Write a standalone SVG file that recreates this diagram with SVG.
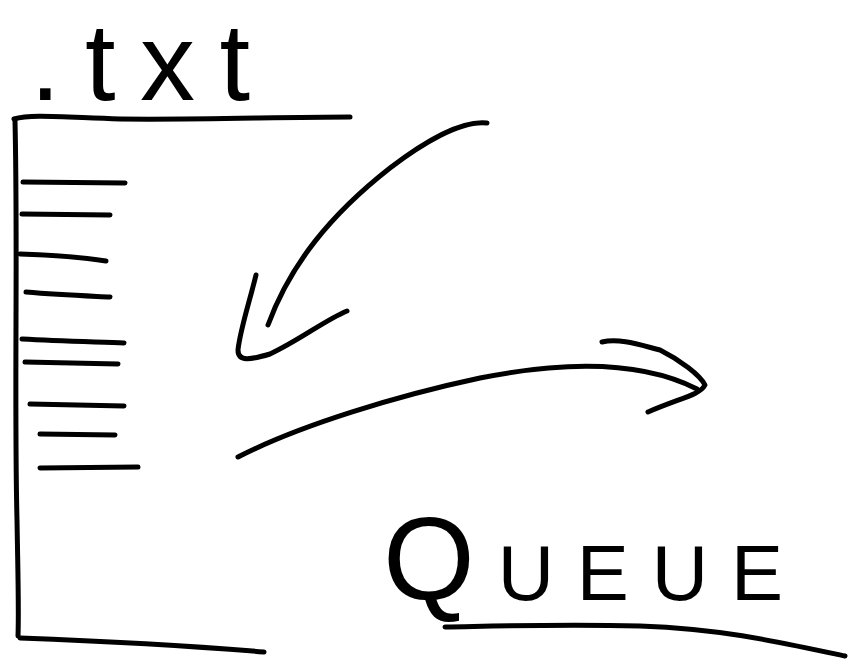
<svg xmlns="http://www.w3.org/2000/svg" width="854" height="668" viewBox="0 0 854 668">
<style>
.s{fill:none;stroke:#000;stroke-width:5;stroke-linecap:round;stroke-linejoin:round}
.t{font-family:"Liberation Sans",Arial,sans-serif;fill:#000}
</style>
<rect width="854" height="668" fill="#fff"/>
<g id="file">
<path class="s" d="M14,119 C30,114 60,117 120,119 C200,120 280,117 350,117"/>
<path class="s" d="M15,121 C18,250 14,400 17,520 C18,580 19,610 18,636"/>
<path class="s" d="M20,638 C100,641 180,645 264,652"/>
<path class="s" d="M23,182 L125,183"/>
<path class="s" d="M22,214 L110,215"/>
<path class="s" d="M20,254 C50,255 80,257 106,261"/>
<path class="s" d="M26,292 C60,295 90,296 110,297"/>
<path class="s" d="M22,339 C60,341 100,342 124,343"/>
<path class="s" d="M25,362 L118,364"/>
<path class="s" d="M30,404 L124,406"/>
<path class="s" d="M40,434 L115,435"/>
<path class="s" d="M40,468 L138,467"/>
</g>
<g id="label-txt">
<text class="t" x="30" y="100" font-size="110" textLength="220" lengthAdjust="spacing">.txt</text>
</g>
<g id="label-queue">
<text class="t" x="383" y="600" font-size="78" textLength="400" lengthAdjust="spacing"><tspan font-size="118">Q</tspan>UEUE</text>
<path class="s" d="M445,627 C500,626 560,624 640,626 C720,629 770,640 845,656"/>
</g>
<g id="connectors">
<path class="s" d="M487,123 C460,120 420,145 390,168 C330,215 290,265 268,325"/>
<path class="s" d="M256,275 C250,300 240,330 238,350 C238,362 250,360 270,354 C300,340 325,320 347,311"/>
<path class="s" d="M238,457 C300,425 400,395 480,378 C560,362 640,360 697,389"/>
<path class="s" d="M602,342 C620,338 640,345 660,350 C680,360 700,375 705,385 C700,395 680,398 648,412"/>
</g>
</svg>
